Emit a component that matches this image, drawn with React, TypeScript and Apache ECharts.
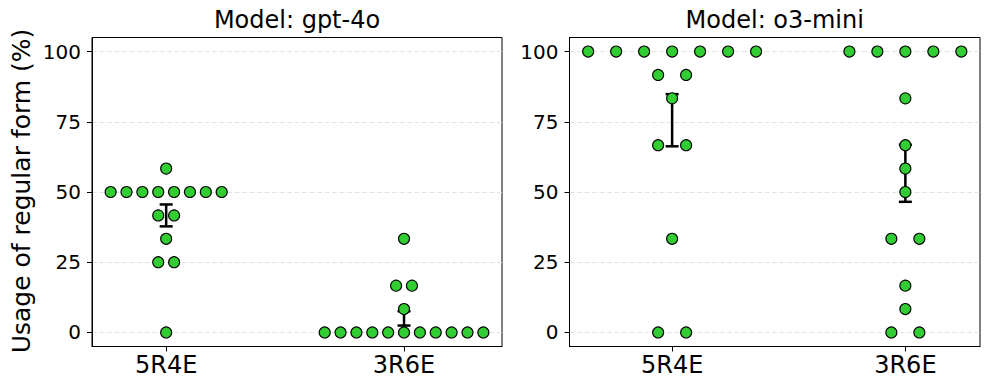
import React, { useEffect, useRef } from "react";
import * as echarts from "echarts";

// ---- Data ----
const categories = ["5R4E", "3R6E"];
const panelTitles = ["Model: gpt-4o", "Model: o3-mini"];
const yTicks = [0, 25, 50, 75, 100];

const gpt4o_5R4E = [50, 50, 50, 50, 50, 50, 50, 50, 58.33, 41.67, 41.67, 33.33, 25, 25, 0];
const gpt4o_3R6E = [0, 0, 0, 0, 0, 0, 0, 0, 0, 0, 0, 8.33, 16.67, 16.67, 33.33];
const o3mini_5R4E = [100, 100, 100, 100, 100, 100, 100, 91.67, 91.67, 83.33, 66.67, 66.67, 33.33, 0, 0];
const o3mini_3R6E = [100, 100, 100, 100, 100, 83.33, 66.67, 58.33, 50, 33.33, 33.33, 16.67, 8.33, 0, 0];

const panels = [
  [gpt4o_5R4E, gpt4o_3R6E],
  [o3mini_5R4E, o3mini_3R6E],
];
// swarm spacing (in category units) per panel
const swarmStep = [0.0667, 0.12];

const FONT = "DejaVu Sans";
const GREEN = "#32cd32";

function swarm(values: number[], cat: number, step: number): number[][] {
  const groups = new Map<number, number[]>();
  values.forEach((v) => {
    const k = Math.round(v * 100);
    if (!groups.has(k)) groups.set(k, []);
    groups.get(k)!.push(v);
  });
  const pts: number[][] = [];
  groups.forEach((vals) => {
    const n = vals.length;
    vals.forEach((v, i) => pts.push([cat + (i - (n - 1) / 2) * step, v]));
  });
  return pts;
}

function meanSE(values: number[]) {
  const n = values.length;
  const m = values.reduce((a, b) => a + b, 0) / n;
  const v = values.reduce((a, b) => a + (b - m) * (b - m), 0) / (n - 1);
  const se = Math.sqrt(v) / Math.sqrt(n);
  return [m, m - se, m + se];
}

export default function App() {
  const ref = useRef<HTMLDivElement>(null);
  useEffect(() => {
    document.body.style.margin = "0";
    const chart = echarts.init(ref.current!, undefined, { renderer: "svg" });

    const gridLefts = [92, 569.5];
    const gridWidths = [410, 410.5];
    const grids: any[] = [];
    const xAxes: any[] = [];
    const yAxes: any[] = [];
    const series: any[] = [];

    panels.forEach((panel, p) => {
      const pts: number[][] = [];
      panel.forEach((vals, c) => pts.push(...swarm(vals, c, swarmStep[p])));
      const xs = pts.map((d) => d[0]);
      const lo = Math.min(...xs);
      const hi = Math.max(...xs);
      const pad = (hi - lo) * 0.05;

      grids.push({
        left: gridLefts[p],
        top: 37.5,
        width: gridWidths[p],
        height: 309,
        show: true,
        borderColor: "#000",
        borderWidth: 1,
        backgroundColor: "transparent",
      });
      xAxes.push({
        type: "value",
        gridIndex: p,
        min: lo - pad,
        max: hi + pad,
        axisLine: { show: true, onZero: false, lineStyle: { color: "#000", width: 1 } },
        axisTick: { show: true, length: 5, customValues: [0, 1], lineStyle: { color: "#000", width: 1 } },
        axisLabel: {
          customValues: [0, 1],
          formatter: (v: number) => categories[Math.round(v)],
          color: "#000",
          fontFamily: FONT,
          fontSize: 24,
          margin: 6,
        },
        splitLine: { show: false },
      });
      yAxes.push({
        type: "value",
        gridIndex: p,
        min: -5,
        max: 105,
        axisLine: { show: true, onZero: false, lineStyle: { color: "#000", width: 1 } },
        axisTick: { show: true, length: 5, customValues: yTicks, lineStyle: { color: "#000", width: 1 } },
        axisLabel: {
          customValues: yTicks,
          color: "#000",
          fontFamily: FONT,
          fontSize: 20,
          margin: 11,
        },
        splitLine: {
          show: true,
          lineStyle: { color: "#e3e3e3", type: [5, 2.5], width: 1 },
        },
      });
      series.push({
        type: "custom",
        xAxisIndex: p,
        yAxisIndex: p,
        z: 2,
        data: panel.map((vals, c) => [c, ...meanSE(vals)]),
        encode: { x: 0, y: [1, 2, 3] },
        renderItem: (params: any, api: any) => {
          const x = api.value(0);
          const top = api.coord([x, api.value(3)]);
          const bot = api.coord([x, api.value(2)]);
          const cap = 6.5;
          const style = { stroke: "#000", lineWidth: 2.5 };
          return {
            type: "group",
            children: [
              { type: "line", shape: { x1: top[0], y1: top[1], x2: bot[0], y2: bot[1] }, style },
              { type: "line", shape: { x1: top[0] - cap, y1: top[1], x2: top[0] + cap, y2: top[1] }, style },
              { type: "line", shape: { x1: bot[0] - cap, y1: bot[1], x2: bot[0] + cap, y2: bot[1] }, style },
            ],
          };
        },
      });
      series.push({
        type: "scatter",
        xAxisIndex: p,
        yAxisIndex: p,
        z: 3,
        symbol: "circle",
        symbolSize: 11,
        itemStyle: { color: GREEN, borderColor: "#000", borderWidth: 1.1, opacity: 1 },
        data: pts,
      });
    });

    const graphics: any[] = panelTitles.map((t, p) => ({
      type: "text",
      x: gridLefts[p] + gridWidths[p] / 2,
      y: 20,
      style: {
        text: t,
        fill: "#000",
        font: `24px "${FONT}"`,
        align: "center",
        verticalAlign: "middle",
      },
    }));
    graphics.push({
      type: "text",
      x: 21,
      y: 191,
      rotation: Math.PI / 2,
      style: {
        text: "Usage of regular form (%)",
        fill: "#000",
        font: `25px "${FONT}"`,
        align: "center",
        verticalAlign: "middle",
      },
    });

    chart.setOption({
      animation: false,
      backgroundColor: "#fff",
      textStyle: { fontFamily: FONT },
      grid: grids,
      xAxis: xAxes,
      yAxis: yAxes,
      series,
      graphic: graphics,
    });
    return () => chart.dispose();
  }, []);
  return <div ref={ref} style={{ width: 990, height: 390 }} />;
}
